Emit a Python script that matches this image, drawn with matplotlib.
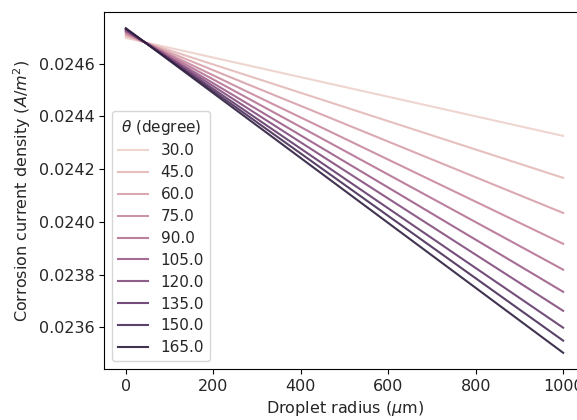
import numpy as np
import matplotlib
matplotlib.use('Agg')
import matplotlib.pyplot as plt
import seaborn as sns

# droplet radius endpoints [um]
radius = [0, 1000]

# contact angle levels [degree]
theta = [30.0, 45.0, 60.0, 75.0, 90.0, 105.0, 120.0, 135.0, 150.0, 165.0]

# corrosion current density at r=0 and r=1000 um [A/m^2]
j_start = [0.024697, 0.024704, 0.024710, 0.024715, 0.024720,
           0.024723, 0.024727, 0.024730, 0.024732, 0.024734]
j_end = [0.024326, 0.024167, 0.024034, 0.023917, 0.023819,
         0.023735, 0.023663, 0.023599, 0.023550, 0.023504]

cmap = sns.cubehelix_palette(as_cmap=True)
norm = matplotlib.colors.Normalize(vmin=min(theta), vmax=max(theta))

plt.rcParams['font.size'] = 11.5
plt.rcParams['text.color'] = '#262626'
plt.rcParams['axes.labelcolor'] = '#262626'
plt.rcParams['xtick.labelcolor'] = '#262626'
plt.rcParams['ytick.labelcolor'] = '#262626'

fig = plt.figure(figsize=(5.77, 4.20), dpi=100)
ax = fig.add_axes([0.1802, 0.1214, 0.8337, 0.8500])

for th, j0, j1 in zip(theta, j_start, j_end):
    ax.plot(radius, [j0, j1], color=cmap(norm(th)), lw=1.5, alpha=0.9,
            label=f'{th:.1f}')

ax.set_xticks([0, 200, 400, 600, 800, 1000])
ax.set_yticks([0.0236, 0.0238, 0.0240, 0.0242, 0.0244, 0.0246])
ax.yaxis.set_major_formatter(matplotlib.ticker.FormatStrFormatter('%.4f'))
ax.set_xlabel(r'Droplet radius ($\mu$m)')
ax.set_ylabel(r'Corrosion current density ($A/m^2$)')
ax.legend(title=r'$\theta$ (degree)', loc='lower left', fontsize=11,
          title_fontsize=11, labelspacing=0.45)

fig.savefig('out.png', dpi=100)
